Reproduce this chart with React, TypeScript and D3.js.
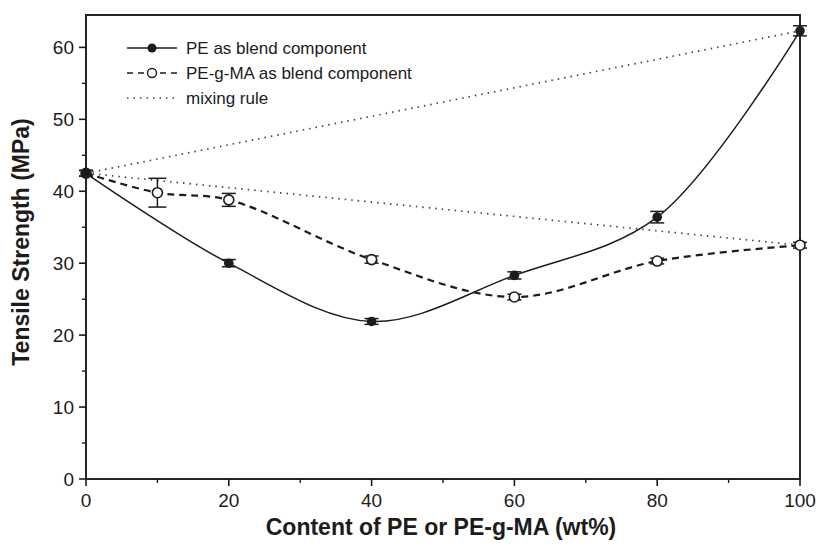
import React from "react";
import * as d3 from "d3";

// Blend composition (wt% of PE or PE-g-MA)
const peX = [0, 20, 40, 60, 80, 100];
const peY = [42.5, 30.0, 21.9, 28.3, 36.4, 62.3];
const peErr = [0.4, 0.5, 0.4, 0.5, 0.8, 0.7];

const maX = [0, 10, 20, 40, 60, 80, 100];
const maY = [42.5, 39.8, 38.8, 30.5, 25.3, 30.3, 32.5];
const maErr = [0.4, 2.0, 0.9, 0.5, 0.4, 0.4, 0.4];

// Linear mixing-rule estimates between the pure components
const mixUpperX = [0, 100];
const mixUpperY = [42.5, 62.3];
const mixLowerX = [0, 100];
const mixLowerY = [42.5, 32.5];

const xTicks = [0, 20, 40, 60, 80, 100];
const xMinor = [10, 30, 50, 70, 90];
const yTicks = [0, 10, 20, 30, 40, 50, 60];
const yMinor = [5, 15, 25, 35, 45, 55];

const legendLabels = [
  "PE as blend component",
  "PE-g-MA as blend component",
  "mixing rule",
];

const W = 828;
const H = 547;
const M = { left: 86, right: 800, top: 15, bottom: 479 };
const INK = "#1c1c1c";
const FONT = "Liberation Sans, Arial, sans-serif";

export default function App() {
  const x = d3.scaleLinear().domain([0, 100]).range([M.left, M.right]);
  const y = d3.scaleLinear().domain([0, 64.5]).range([M.bottom, M.top]);

  const smooth = d3
    .line<[number, number]>()
    .x((d) => x(d[0]))
    .y((d) => y(d[1]))
    .curve(d3.curveCatmullRom.alpha(0.5));
  const straight = d3
    .line<[number, number]>()
    .x((d) => x(d[0]))
    .y((d) => y(d[1]));

  const pePts = peX.map((v, i) => [v, peY[i]] as [number, number]);
  const maPts = maX.map((v, i) => [v, maY[i]] as [number, number]);
  const upper = mixUpperX.map((v, i) => [v, mixUpperY[i]] as [number, number]);
  const lower = mixLowerX.map((v, i) => [v, mixLowerY[i]] as [number, number]);

  const errBar = (xv: number, yv: number, e: number, key: string, cap: number) => (
    <g key={key} stroke={INK} strokeWidth={1.5}>
      <line x1={x(xv)} x2={x(xv)} y1={y(yv - e)} y2={y(yv + e)} />
      <line x1={x(xv) - cap} x2={x(xv) + cap} y1={y(yv + e)} y2={y(yv + e)} />
      <line x1={x(xv) - cap} x2={x(xv) + cap} y1={y(yv - e)} y2={y(yv - e)} />
    </g>
  );

  const legX0 = 127;
  const legX1 = 177;
  const legY = [48, 73, 98];

  return (
    <svg
      width={W}
      height={H}
      style={{ position: "absolute", left: 0, top: 0, background: "#fff" }}
      fontFamily={FONT}
    >
      {/* frame */}
      <rect
        x={M.left}
        y={M.top}
        width={M.right - M.left}
        height={M.bottom - M.top}
        fill="none"
        stroke={INK}
        strokeWidth={1.9}
      />

      {/* x axis ticks */}
      {xTicks.map((t) => (
        <g key={"xt" + t}>
          <line x1={x(t)} x2={x(t)} y1={M.bottom} y2={M.bottom + 7} stroke={INK} strokeWidth={1.6} />
          <text x={x(t)} y={M.bottom + 28} textAnchor="middle" fontSize={19} fill={INK}>
            {t}
          </text>
        </g>
      ))}
      {xMinor.map((t) => (
        <line key={"xm" + t} x1={x(t)} x2={x(t)} y1={M.bottom} y2={M.bottom + 4} stroke={INK} strokeWidth={1.4} />
      ))}

      {/* y axis ticks */}
      {yTicks.map((t) => (
        <g key={"yt" + t}>
          <line x1={M.left - 7} x2={M.left} y1={y(t)} y2={y(t)} stroke={INK} strokeWidth={1.6} />
          <text x={M.left - 12} y={y(t) + 7} textAnchor="end" fontSize={19} fill={INK}>
            {t}
          </text>
        </g>
      ))}
      {yMinor.map((t) => (
        <line key={"ym" + t} x1={M.left - 4} x2={M.left} y1={y(t)} y2={y(t)} stroke={INK} strokeWidth={1.4} />
      ))}

      {/* axis titles */}
      <text
        x={(M.left + M.right) / 2 - 2}
        y={535}
        textAnchor="middle"
        fontSize={23}
        fontWeight="bold"
        fill={INK}
      >
        Content of PE or PE-g-MA (wt%)
      </text>
      <text
        transform={`translate(29, ${(M.top + M.bottom) / 2 - 5}) rotate(-90)`}
        textAnchor="middle"
        fontSize={23}
        fontWeight="bold"
        fill={INK}
      >
        Tensile Strength (MPa)
      </text>

      {/* mixing rule */}
      <path d={straight(upper) || ""} fill="none" stroke="#444" strokeWidth={1.7} strokeDasharray="1.5 5" />
      <path d={straight(lower) || ""} fill="none" stroke="#444" strokeWidth={1.7} strokeDasharray="1.5 5" />

      {/* PE-g-MA series */}
      <path d={smooth(maPts) || ""} fill="none" stroke={INK} strokeWidth={2.2} strokeDasharray="7 5" />
      {maX.map((v, i) => errBar(v, maY[i], maErr[i], "me" + i, i === 1 ? 9 : 7))}
      {maX.map((v, i) => (
        <circle key={"mc" + i} cx={x(v)} cy={y(maY[i])} r={5} fill="#fff" stroke={INK} strokeWidth={1.6} />
      ))}

      {/* PE series */}
      <path d={smooth(pePts) || ""} fill="none" stroke={INK} strokeWidth={1.5} />
      {peX.map((v, i) => errBar(v, peY[i], peErr[i], "pe" + i, 7))}
      {peX.map((v, i) => (
        <circle key={"pc" + i} cx={x(v)} cy={y(peY[i])} r={4.8} fill={INK} />
      ))}

      {/* legend */}
      <g>
        <line x1={legX0} x2={legX1} y1={legY[0]} y2={legY[0]} stroke={INK} strokeWidth={1.4} />
        <circle cx={(legX0 + legX1) / 2} cy={legY[0]} r={4.5} fill={INK} />
        <line x1={legX0} x2={legX1} y1={legY[1]} y2={legY[1]} stroke={INK} strokeWidth={1.6} strokeDasharray="6 5" />
        <circle cx={(legX0 + legX1) / 2} cy={legY[1]} r={4.5} fill="#fff" stroke={INK} strokeWidth={1.4} />
        <line x1={legX0} x2={legX1} y1={legY[2]} y2={legY[2]} stroke="#444" strokeWidth={1.6} strokeDasharray="1.5 5" />
        {legendLabels.map((lab, i) => (
          <text key={lab} x={186} y={legY[i] + 6} fontSize={17} fill={INK}>
            {lab}
          </text>
        ))}
      </g>
    </svg>
  );
}
